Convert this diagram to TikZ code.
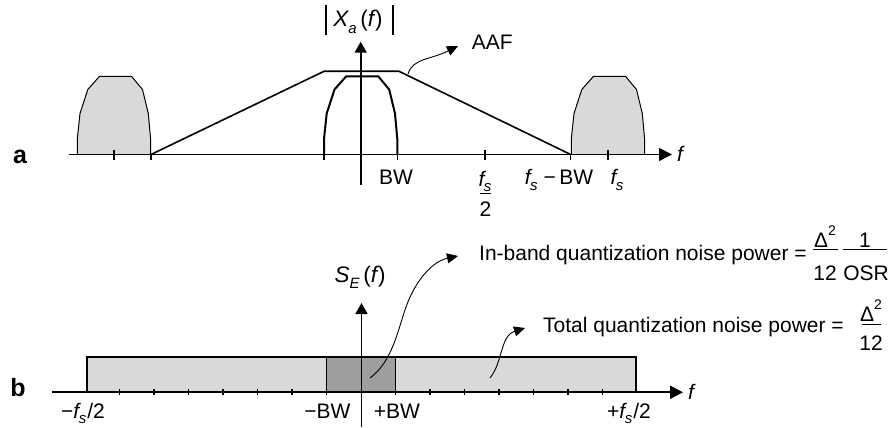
\documentclass[tikz,border=0pt]{standalone}
\usepackage{fontspec}
\setmainfont{Liberation Sans}
\usetikzlibrary{arrows.meta}
\definecolor{lightfill}{RGB}{217,217,217}
\definecolor{darkfill}{RGB}{158,158,158}
\newcommand\subs[1]{\raisebox{-0.28em}{\fontsize{15}{15}\selectfont\itshape #1}}
\newcommand\fsub{{\itshape f}\kern-0.5pt\subs{s}}
\newcommand\supx[1]{\raisebox{0.55em}{\fontsize{14}{14}\selectfont #1}}
\tikzset{
  lbl/.style={font=\fontsize{21}{25}\selectfont, inner sep=0pt, anchor=base},
  biglbl/.style={font=\fontsize{21}{25}\selectfont, inner sep=0pt, anchor=base west},
  panel/.style={font=\fontsize{25}{29}\selectfont\bfseries, inner sep=0pt, anchor=base},
  axisline/.style={line width=1.6pt, -{Triangle[length=13pt,width=13pt]}},
  vaxis/.style={line width=1.6pt, -{Triangle[length=11pt,width=12pt]}},
  curvearrow/.style={line width=0.9pt, -{Triangle[length=11pt,width=10pt]}},
  tickline/.style={line width=1.2pt},
  fracbar/.style={line width=1pt},
}
\newcommand\bandpath{(-36.7,154.5) -- (-36.7,139) -- (-34,113.5) -- (-26.2,89.5) -- (-14.5,76.3) -- (17.5,76.3) -- (28.5,89.5) -- (34.3,113.5) -- (36.6,139) -- (36.6,154.5)}
\begin{document}
\begin{tikzpicture}[x=1pt,y=-1pt]
\useasboundingbox (0,0) rectangle (895,428);

% ================= panel a =================
\node[panel] (pa) at (20,163) {a};
% replicas
\fill[lightfill, shift={(114,0)}] \bandpath -- cycle;
\draw[line width=1pt, shift={(114,0)}] \bandpath;
\fill[lightfill, shift={(608,0)}] \bandpath -- cycle;
\draw[line width=1pt, shift={(608,0)}] \bandpath;
% baseband
\draw[line width=2pt, line join=round, shift={(360.7,0)}] \bandpath;
% AAF
\draw[line width=1.6pt] (151,154.5) -- (324,71.3) -- (399,71.3) -- (570.7,154.5);
% axis
\coordinate (a0) at (69,154.5);
\coordinate (a1) at (672,154.5);
\draw[axisline] (a0) -- (a1);
\node[lbl, anchor=base west] (fa) at (677,161) {\itshape f};
% ticks
\foreach \x in {114,485,608} \draw[tickline] (\x,149.5) -- (\x,159.5);
\foreach \x in {151,324,397.3,570.7} \draw[tickline] (\x,154.5) -- (\x,159.5);
% vertical axis
\coordinate (v0) at (360.7,185);
\coordinate (v1) at (360.7,41.7);
\draw[vaxis] (v0) -- (v1);
\node[lbl, font=\fontsize{22.5}{27}\selectfont] (xa) at (358,27) {{\itshape X}\subs{a}\,({\itshape f}\kern1pt)};
\draw[line width=1.3pt] (326,5) -- (326,35);
\draw[line width=1.3pt] (393,5) -- (393,35);
% labels
\node[lbl] (bw) at (396,184.3) {BW};
\node[lbl] (fs2n) at (485,186) {\fsub};
\draw[fracbar] (479.5,193.3) -- (491,193.3);
\node[lbl] (fs2d) at (485.5,216) {2};
\node[lbl] (fsbw) at (559,184.3) {\fsub\ −\,BW};
\node[lbl] (fsl) at (617,184.3) {\fsub};
\node[lbl, anchor=base west] (aaf) at (471.7,50) {AAF};
\coordinate (aafs) at (408,74);
\coordinate (aafe) at (458,46);
\draw[curvearrow] (aafs) .. controls (413,58) and (430,60) .. (aafe);

% ================= panel b =================
\node[panel] (pb) at (18,396) {b};
\fill[lightfill] (87,392.3) rectangle (636,357);
\fill[darkfill] (326.5,392.3) rectangle (395.5,357);
\draw[line width=1.4pt] (326.5,357) -- (326.5,395.3);
\draw[line width=1.4pt] (395.5,357) -- (395.5,395.3);
\draw[line width=2pt, line join=miter] (87,392.3) -- (87,357) -- (636,357) -- (636,392.3);
\coordinate (b0) at (51.7,392.3);
\coordinate (b1) at (683,392.3);
\draw[axisline, line width=2pt] (b0) -- (b1);
\node[lbl, anchor=base west] (fb) at (688,399) {\itshape f};
\foreach \k in {1,...,7} {
  \draw[tickline] ({361-34.5*\k},389.3) -- ({361-34.5*\k},395.3);
  \draw[tickline] ({361+34.5*\k},389.3) -- ({361+34.5*\k},395.3);
}
\coordinate (w0) at (361.5,426.7);
\coordinate (w1) at (361.5,303);
\draw[vaxis] (w0) -- (w1);
\node[lbl, font=\fontsize{22.5}{27}\selectfont] (se) at (360,282) {{\itshape S}\subs{E}\,({\itshape f}\kern1pt)};
\node[lbl] (mfs) at (83,418) {−\fsub\kern1pt/2};
\node[lbl] (mbw) at (327.5,418) {−BW};
\node[lbl] (pbw) at (397,418) {+BW};
\node[lbl] (pfs) at (629,418) {+\fsub\kern1pt/2};

% in-band
\node[biglbl] (inb) at (479,260) {In-band quantization noise power =};
\node[lbl] (f1n) at (825,247) {Δ\supx{2}};
\draw[fracbar] (813,249.5) -- (838,249.5);
\node[lbl] (f1d) at (825,280) {12};
\node[lbl] (f2n) at (865,247) {1};
\draw[fracbar] (843,249.5) -- (887,249.5);
\node[lbl] (f2d) at (866,280) {OSR};
\coordinate (ibs) at (370,378);
\coordinate (ibm) at (405,310);
\coordinate (ibe) at (458,256);
\draw[curvearrow] (ibs) .. controls (392,362) and (398,330) .. (ibm) .. controls (413,285) and (430,262) .. (ibe);

% total
\node[biglbl] (tot) at (543,332) {Total quantization noise power =};
\node[lbl] (f3n) at (871,321) {Δ\supx{2}};
\draw[fracbar] (861.5,324) -- (881,324);
\node[lbl] (f3d) at (871,350) {12};
\coordinate (tts) at (490,378);
\coordinate (tte) at (525,328);
\draw[curvearrow] (tts) .. controls (503,362) and (500,336) .. (tte);
\end{tikzpicture}
\end{document}
